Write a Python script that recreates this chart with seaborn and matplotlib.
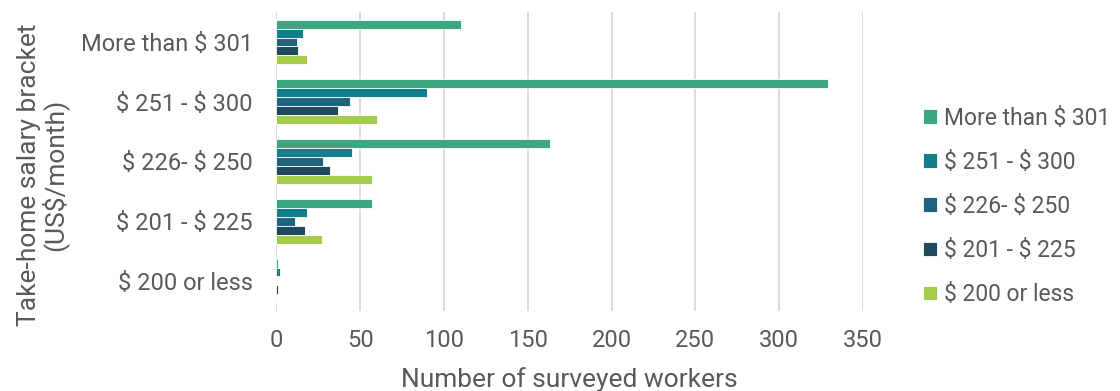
import matplotlib
matplotlib.use("Agg")
import matplotlib.pyplot as plt
import seaborn as sns
import pandas as pd

# Salary brackets on the y axis and the same brackets as bar series
brackets = ["More than $ 301", "$ 251 - $ 300", "$ 226- $ 250", "$ 201 - $ 225", "$ 200 or less"]
series = ["More than $ 301", "$ 251 - $ 300", "$ 226- $ 250", "$ 201 - $ 225", "$ 200 or less"]

# Number of surveyed workers, one list per series (ordered as `brackets`)
more_than_301 = [110, 329, 163, 57, 1]
from_251_to_300 = [16, 90, 45, 18, 2]
from_226_to_250 = [12, 44, 28, 11, 0]
from_201_to_225 = [13, 37, 32, 17, 1]
under_200 = [18, 60, 57, 27, 0]

xticks = [0, 50, 100, 150, 200, 250, 300, 350]

colors = ["#3BA77E", "#137F8B", "#21637F", "#1F4A5D", "#A5CB4A"]
text_color = "#595959"

values = [more_than_301, from_251_to_300, from_226_to_250, from_201_to_225, under_200]
rows = []
for s, vals in zip(series, values):
    for b, v in zip(brackets, vals):
        rows.append({"bracket": b, "series": s, "workers": v})
df = pd.DataFrame(rows)

sns.set_theme(style="white")
plt.rcParams["font.family"] = ["Roboto", "DejaVu Sans"]
# dollar signs are literal text here, not math delimiters
plt.rcParams["text.parse_math"] = False

fig = plt.figure(figsize=(11.2, 3.91), dpi=100)
ax = fig.add_axes([0.2468, 0.205, 0.5237, 0.764])

sns.barplot(
    data=df, y="bracket", x="workers", hue="series",
    order=brackets, hue_order=series, palette=colors, saturation=1,
    orient="h", width=0.75, dodge=True, errorbar=None,
    edgecolor="white", linewidth=0.6, ax=ax, legend=True,
)

ax.set_xlim(0, 350)
ax.set_xticks(xticks)
ax.set_xticklabels([str(t) for t in xticks])
ax.xaxis.grid(True, color="#D9D9D9", linewidth=1.3)
ax.set_axisbelow(True)
for sp in ax.spines.values():
    sp.set_visible(False)
ax.tick_params(axis="both", length=0, labelsize=17, colors=text_color)
ax.tick_params(axis="y", pad=17)
ax.tick_params(axis="x", pad=13)

ax.set_xlabel("Number of surveyed workers", fontsize=19, color=text_color, labelpad=11)
ax.set_ylabel("Take-home salary bracket\n(US$/month)", fontsize=19,
              color=text_color, linespacing=0.95)
ax.yaxis.set_label_coords(-0.355, 0.455)

handles, labels = ax.get_legend_handles_labels()
ax.legend(handles, labels, loc="center left", bbox_to_anchor=(1.068, 0.35),
          frameon=False, fontsize=16.5, labelcolor=text_color,
          handlelength=0.6, handleheight=0.6, handletextpad=0.3,
          labelspacing=0.92)

fig.savefig("out.png", dpi=100)
